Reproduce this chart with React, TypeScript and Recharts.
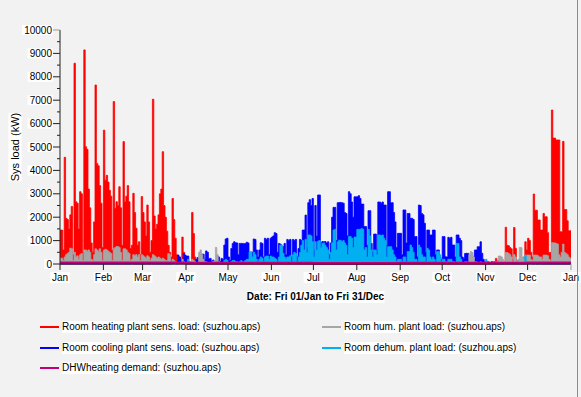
import React from 'react';
import { ComposedChart, Area, Line, XAxis, YAxis } from 'recharts';

const zeros = (n: number) => Array.from({ length: n }, () => 0);

const monthStarts = [0, 31, 59, 90, 120, 151, 181, 212, 243, 273, 304, 334, 365];
const monthLabels = ['Jan', 'Feb', 'Mar', 'Apr', 'May', 'Jun', 'Jul', 'Aug', 'Sep', 'Oct', 'Nov', 'Dec', 'Jan'];
const yTicks = [0, 500, 1000, 1500, 2000, 2500, 3000, 3500, 4000, 4500, 5000, 5500, 6000, 6500, 7000, 7500, 8000, 8500, 9000, 9500, 10000];

// daily peak values (kW), Jan 1 .. Dec 31
const heating = [
  1450, 1450, 600, 4560, 1950, 1900, 1500, 2100, 2460, 400, 8580, 2660, 2600, 1500, 3090, 3000, 500, 9150, 5010, 4900, 3200, 2400, 900, 500, 1800, 7650, 4300, 4200, 3350, 2600, 700,
  5720, 3580, 3790, 3500, 3150, 2900, 600, 6940, 2380, 2660, 2500, 3300, 2400, 800, 5230, 2660, 2900, 3350, 2660, 660, 800, 3020, 2200, 1530, 800, 950, 400, 2880,
  2200, 1800, 1200, 2520, 1800, 500, 1000, 7040, 2050, 1500, 1700, 2100, 3000, 3200, 4800, 2500, 2000, 1400, 800, 500, 300, 2800, 1900, 1100, 400, 200, 300, 100, 1150, 500, 100,
  0, 0, 0, 0, 2200, 1300, 300, 0, 0, 0, 0, 0, 0, 0, 0, 0, 0, 0, 0, 0, 0, 0, 0, 0, 0, 0, 0, 0, 0, 0,
  ...zeros(184),
  0, 0, 0, 0, 0, 0, 100, 240, 0, 0, 0, 0, 0, 100, 1570, 800, 780, 700, 650, 200, 1560, 670, 150, 100, 200, 150, 100, 300, 950, 600,
  1100, 1000, 500, 300, 2990, 2300, 2300, 1880, 1880, 1450, 1450, 2160, 2020, 2020, 1340, 490, 490, 6580, 5380, 5380, 5300, 5300, 5300, 1380, 1380, 5240, 2330, 2330, 1850, 1420, 1420,
];

const cooling = [
  ...zeros(31),
  ...zeros(20), 150, ...zeros(7),
  0, 0, 0, 100, 0, 0, 100, ...zeros(14), 100, 100, 100, 0, 380, 300, 200, 100, 450, 380,
  340, 340, 100, 50, 0, 50, 100, 200, 280, 280, 150, 420, 420, 200, 560, 500, 240, 240, 100, 170, 150, 100, 340, 300, 100, 240, 200, 810, 1070, 1100,
  300, 150, 660, 880, 950, 910, 900, 400, 880, 880, 880, 870, 880, 930, 900, 300, 200, 500, 1070, 1050, 600, 300, 600, 910, 880, 300, 1100, 1050, 1100, 400, 1100,
  1150, 1200, 1340, 1300, 500, 880, 850, 300, 740, 880, 400, 1050, 1000, 1050, 300, 1050, 1000, 1050, 300, 660, 1050, 1000, 1450, 1450, 2090, 700, 2620, 2750, 2500, 2800,
  600, 2500, 1200, 2950, 2950, 900, 960, 950, 960, 900, 950, 400, 900, 2000, 2420, 2420, 1000, 2620, 2630, 2630, 2620, 2600, 2200, 2160, 1200, 3090, 3000, 2650, 2000, 2870, 2870,
  2870, 2920, 2800, 2560, 2560, 1600, 1600, 800, 2280, 2280, 880, 500, 1280, 1280, 600, 2650, 2650, 2600, 2650, 2520, 2520, 800, 3090, 3090, 2620, 2620, 2200, 1800, 700, 1310, 1310,
  1310, 400, 2310, 2310, 900, 2160, 2160, 1950, 1950, 1900, 1170, 1170, 300, 2520, 2500, 2160, 2100, 1740, 500, 1450, 1450, 1240, 1240, 1450, 1450, 400, 600, 600, 300, 200,
  1170, 1170, 310, 300, 1140, 1100, 1140, 810, 810, 300, 1240, 1240, 1100, 1000, 300, 250, 450, 460, 450, 200, 350, 350, 200, 600, 600, 740, 740, 950, 460, 200, 100,
  100, 100, 80, 50, 100, 80, 50, 100, 120, 150, 120, 100, 50, 40, 60, 80, 100, 50, 40, 80, 100, 60, 50, 80, 100, 60, 50, 40, 60, 50,
  40, 30, 50, 0, 0, 30, 0, 0, 40, ...zeros(22),
];

const hum = [
  250, 250, 150, 300, 400, 450, 500, 680, 650, 150, 500, 300, 350, 200, 400, 450, 150, 600, 600, 550, 600, 500, 200, 150, 400, 650, 600, 550, 650, 500, 150,
  600, 630, 600, 550, 500, 450, 150, 650, 700, 750, 750, 700, 500, 150, 650, 650, 600, 500, 450, 150, 200, 400, 350, 400, 300, 400, 150, 400,
  350, 300, 250, 350, 300, 150, 250, 400, 350, 300, 250, 300, 250, 200, 250, 200, 150, 150, 450, 400, 100, 200, 150, 100, 50, 50, 50, 50, 200, 100, 50,
  50, 50, 50, 50, 200, 150, 100, 50, 50, 500, 600, 400, 200, 100, 50, 50, 50, 50, 50, 100, 150, 710, 400, 100, 50, 50, 50, 50, 50, 50,
  ...zeros(153),
  ...zeros(19), 400, 530, 490, 300, ...zeros(8),
  0, 0, 0, 0, 0, 0, 0, 100, 100, 340, 340, 300, 200, 100, 490, 490, 450, 400, 300, 100, 400, 300, 100, 200, 710, 700, 300, 200, 380, 380,
  380, 380, 200, 150, 380, 380, 380, 350, 300, 300, 200, 380, 380, 380, 350, 200, 150, 910, 910, 900, 880, 850, 400, 300, 500, 850, 500, 450, 400, 300, 250,
];

const dehum = [
  ...zeros(90),
  0, 200, 100, 0, 0, 0, 0, 0, 50, 0, 0, 0, 0, 0, 100, 50, 0, 0, 0, 0, 0, 0, 100, 0, 0, 0, 0, 150, 200, 150,
  0, 0, 100, 150, 150, 100, 100, 0, 100, 150, 100, 100, 150, 200, 200, 530, 530, 300, 500, 400, 200, 100, 200, 300, 250, 100, 300, 340, 340, 200, 340,
  300, 300, 250, 200, 100, 300, 810, 810, 460, 300, 230, 300, 300, 350, 100, 400, 500, 450, 100, 300, 500, 800, 1000, 600, 1050, 500, 1240, 1240, 1200, 950,
  300, 950, 600, 980, 1000, 700, 880, 900, 800, 700, 600, 200, 500, 900, 1450, 1480, 600, 950, 1020, 1000, 950, 1000, 900, 800, 400, 1170, 1170, 1100, 700, 1150, 1150,
  1480, 1480, 1480, 1520, 1480, 600, 700, 300, 1480, 1200, 600, 300, 600, 600, 400, 1240, 1240, 1220, 1240, 1100, 1000, 300, 740, 740, 740, 600, 400, 300, 100, 200, 200,
  200, 100, 300, 300, 100, 530, 530, 810, 700, 500, 200, 200, 100, 810, 700, 400, 300, 300, 100, 670, 600, 300, 200, 300, 200, 100, 530, 530, 400, 100,
  200, 200, 100, 100, 200, 200, 200, 100, 100, 50, 880, 880, 300, 200, 50, 50, 100, 100, 50, 50, 50, 50, 50, 100, 100, 50, 50, 100, 50, 50, 0,
  200, 100, ...zeros(26), 380, 0,
  ...zeros(31),
];

const dhwMonthly = [40, 40, 38, 35, 30, 28, 25, 25, 28, 32, 36, 40];

const monthOf = (day: number) => {
  let m = 0;
  while (m < 11 && monthStarts[m + 1] <= day) m++;
  return m;
};

const data = heating.map((v, i) => ({
  day: i,
  heating: v,
  cooling: cooling[i],
  hum: hum[i],
  dehum: dehum[i],
  dhw: dhwMonthly[monthOf(i)],
}));
// close the last step at the year end
data.push({ ...data[data.length - 1], day: 365 });

const FONT = "'Liberation Sans', Arial, sans-serif";

const YTick = (props: any) => {
  const { x, y, payload } = props;
  const v = payload.value as number;
  const major = v % 1000 === 0;
  const w = String(v).length * 5.6 + 2;
  return (
    <g>
      <line x1={x - (major ? 7 : 3)} x2={x} y1={y} y2={y} stroke={v === 10000 ? '#999' : '#222'} />
      {major && (
        <>
          <rect x={x - 8 - w} y={y - 5} width={w + 1} height={10} fill="#fff" />
          <text x={x - 8} y={y} dy={3.5} textAnchor="end" fontSize={10} fontFamily={FONT} fill="#000">
            {v}
          </text>
        </>
      )}
    </g>
  );
};

const XTick = (props: any) => {
  const { x, y, payload } = props;
  const i = monthStarts.indexOf(payload.value);
  const label = monthLabels[i] ?? '';
  const last = i === monthStarts.length - 1;
  const w = label.length * 5.8;
  return (
    <g>
      <line x1={x} x2={x} y1={y} y2={y + 6} stroke={last ? '#999' : '#222'} />
      <rect x={x - w / 2 - 1} y={y + 8} width={w + 2} height={11} fill="#fff" />
      <text x={x} y={y + 17} textAnchor="middle" fontSize={10} fontFamily={FONT} fill="#000">
        {label}
      </text>
    </g>
  );
};

const legendItems = [
  { label: 'Room heating plant sens. load: (suzhou.aps)', color: '#ff0000', left: 40, top: 327 },
  { label: 'Room cooling plant sens. load: (suzhou.aps)', color: '#0000ff', left: 40, top: 348 },
  { label: 'DHWheating demand: (suzhou.aps)', color: '#c0007a', left: 40, top: 368 },
  { label: 'Room hum. plant load: (suzhou.aps)', color: '#a6a6a6', left: 322, top: 327 },
  { label: 'Room dehum. plant load: (suzhou.aps)', color: '#00b0f0', left: 322, top: 348 },
];

const App: React.FC = () => {
  return (
    <div
      style={{
        position: 'absolute',
        left: 0,
        top: 0,
        width: 581,
        height: 397,
        background: '#f2f2f2',
        fontFamily: FONT,
        overflow: 'hidden',
      }}
    >
      <ComposedChart
        width={581}
        height={397}
        data={data}
        margin={{ top: 30, right: 10, left: 0, bottom: 113 }}
      >
        <XAxis
          dataKey="day"
          type="number"
          domain={[0, 365]}
          ticks={monthStarts}
          interval={0}
          tick={<XTick />}
          tickLine={false}
          tickSize={0}
          tickMargin={0}
          height={20}
          axisLine={{ stroke: '#222' }}
        />
        <YAxis
          type="number"
          domain={[0, 10000]}
          ticks={yTicks}
          interval={0}
          tick={<YTick />}
          tickLine={false}
          tickSize={0}
          tickMargin={0}
          width={60}
          axisLine={{ stroke: '#222' }}
        />
        <Area type="stepAfter" dataKey="heating" stroke="#ff0000" strokeWidth={0.8} fill="#ff0000" fillOpacity={1} dot={false} activeDot={false} isAnimationActive={false} />
        <Area type="stepAfter" dataKey="cooling" stroke="#0000ff" strokeWidth={0.8} fill="#0000ff" fillOpacity={1} dot={false} activeDot={false} isAnimationActive={false} />
        <Area type="stepAfter" dataKey="hum" stroke="#a6a6a6" strokeWidth={0.8} fill="#a6a6a6" fillOpacity={1} dot={false} activeDot={false} isAnimationActive={false} />
        <Area type="stepAfter" dataKey="dehum" stroke="#00b0f0" strokeWidth={0.8} fill="#00b0f0" fillOpacity={1} dot={false} activeDot={false} isAnimationActive={false} />
        <Line type="linear" dataKey="dhw" stroke="#c0007a" strokeWidth={3} dot={false} activeDot={false} isAnimationActive={false} />
      </ComposedChart>

      <div
        style={{
          position: 'absolute',
          left: 15,
          top: 147,
          transform: 'translate(-50%, -50%) rotate(-90deg)',
          fontSize: 11,
          whiteSpace: 'nowrap',
          background: '#fff',
          color: '#000',
          lineHeight: '13px',
        }}
      >
        Sys load (kW)
      </div>

      <div
        style={{
          position: 'absolute',
          left: 315.5,
          top: 297,
          transform: 'translate(-50%, -50%)',
          fontSize: 10,
          fontWeight: 'bold',
          whiteSpace: 'nowrap',
          background: '#fff',
          color: '#000',
          lineHeight: '12px',
        }}
      >
        Date: Fri 01/Jan to Fri 31/Dec
      </div>

      {legendItems.map((item) => (
        <div
          key={item.label}
          style={{
            position: 'absolute',
            left: item.left,
            top: item.top - 6,
            height: 12,
            display: 'flex',
            alignItems: 'center',
            whiteSpace: 'nowrap',
          }}
        >
          <div style={{ width: 19, height: 2, background: item.color }} />
          <span style={{ marginLeft: 3, fontSize: 10, lineHeight: '12px', background: '#fff', color: '#000' }}>
            {item.label}
          </span>
        </div>
      ))}

      <div style={{ position: 'absolute', left: 577, top: 0, width: 1, height: 397, background: '#8c8c8c' }} />
    </div>
  );
};

export default App;
